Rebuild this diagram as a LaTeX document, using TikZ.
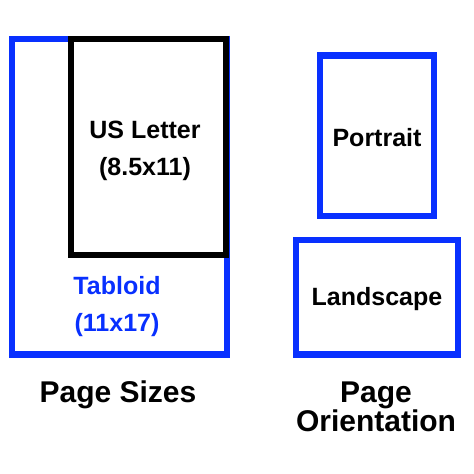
\documentclass[tikz,border=0pt]{standalone}
\usepackage{fontspec}
\setmainfont{Liberation Sans}
\definecolor{pageblue}{RGB}{8,48,255}
\begin{document}
\begin{tikzpicture}[x=1pt,y=-1pt,line join=miter,
	sheet/.style={draw,line width=6.5pt,inner sep=0pt},
	boxtext/.style={font=\fontsize{25}{37}\selectfont\bfseries,align=center},
	caption/.style={font=\fontsize{30}{28}\selectfont\bfseries,align=center}]
	\useasboundingbox (0,0) rectangle (474,474);
	% page sizes
	\node[sheet,pageblue,minimum width=215pt,minimum height=315.5pt] (tabloid) at (119.5,196.75) {};
	\node[sheet,black,fill=white,minimum width=155pt,minimum height=216pt] (letter) at (148.5,147) {};
	\node[boxtext] (lettertxt) at (145,151) {US Letter\\(8.5x11)};
	\node[boxtext,text=pageblue] (tabloidtxt) at (117,307) {Tabloid\\(11x17)};
	% orientation
	\node[sheet,draw=pageblue,minimum width=114pt,minimum height=160.5pt] (portrait) at (377,135.75) {};
	\node[boxtext] (portraittxt) at (377,138) {Portrait};
	\node[sheet,draw=pageblue,minimum width=162pt,minimum height=114.5pt] (landscape) at (377,297.25) {};
	\node[boxtext] (landscapetxt) at (377,299) {Landscape};
	\node[caption] (sizes) at (118,395) {Page Sizes};
	\node[caption] (orient) at (376,407) {Page\\Orientation};
\end{tikzpicture}
\end{document}
